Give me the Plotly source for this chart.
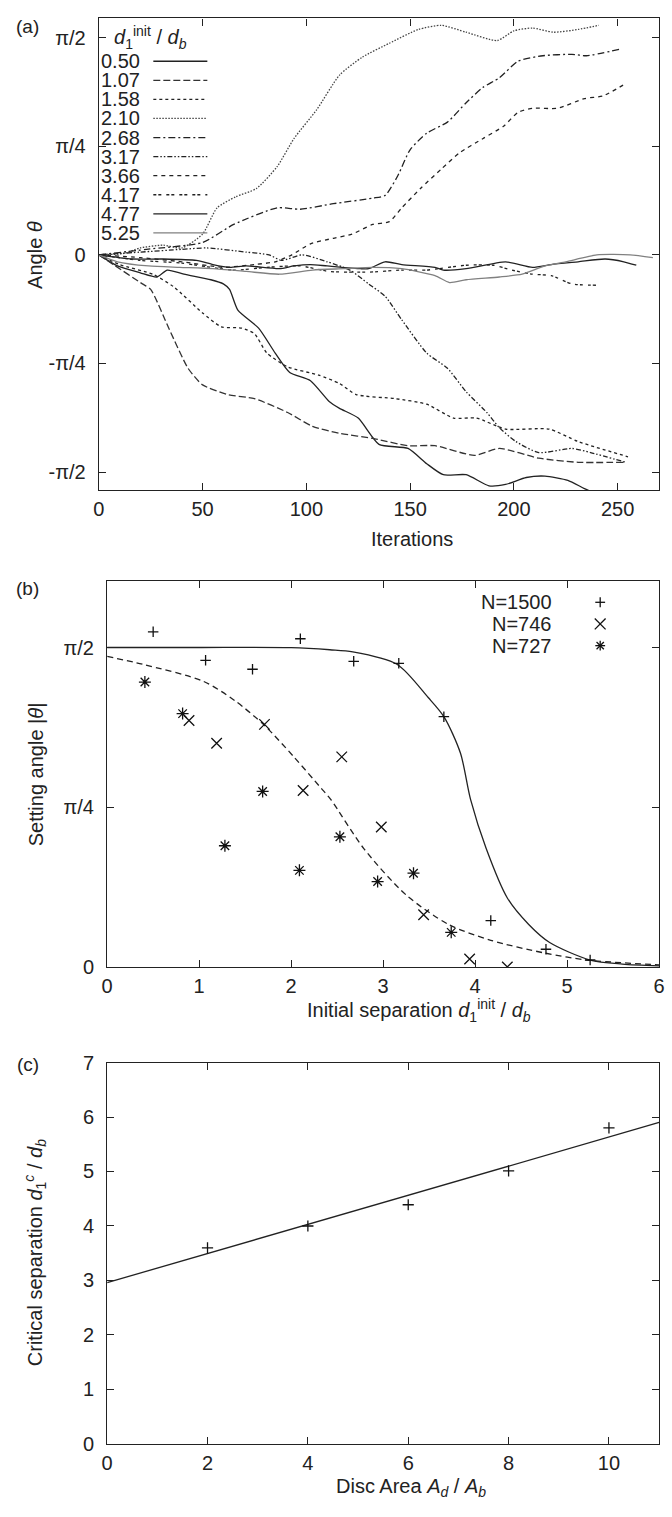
import math
import plotly.graph_objects as go

W, H = 672, 1517
FONT = "Liberation Sans"
INK = "#222222"

# ---------------- Panel (a) data: angle vs iterations ----------------
sep_labels = ["0.50", "1.07", "1.58", "2.10", "2.68", "3.17", "3.66", "4.17", "4.77", "5.25"]

it_050 = [0, 9, 20, 28, 33, 41, 54, 60, 63, 67, 77, 85, 92, 102, 111, 116, 125, 135, 149, 158, 166, 177, 188, 196, 206, 215, 226, 234, 240]
th_050 = [0, -0.08, -0.13, -0.16, -0.11, -0.14, -0.18, -0.21, -0.25, -0.40, -0.53, -0.71, -0.85, -0.91, -1.06, -1.11, -1.18, -1.37, -1.40, -1.51, -1.59, -1.59, -1.67, -1.66, -1.61, -1.60, -1.63, -1.69, -1.73]

it_107 = [0, 7, 21, 25, 34, 43, 50, 62, 75, 91, 103, 116, 133, 149, 162, 181, 193, 212, 231, 253]
th_107 = [0, -0.07, -0.21, -0.25, -0.54, -0.82, -0.94, -1.01, -1.04, -1.14, -1.24, -1.29, -1.33, -1.38, -1.38, -1.45, -1.40, -1.47, -1.50, -1.50]

it_158 = [0, 10, 26, 36, 50, 59, 69, 75, 81, 91, 106, 116, 124, 143, 158, 171, 182, 196, 217, 231, 255]
th_158 = [0, -0.07, -0.14, -0.23, -0.42, -0.52, -0.53, -0.57, -0.71, -0.81, -0.87, -0.93, -1.01, -1.04, -1.08, -1.18, -1.18, -1.26, -1.26, -1.35, -1.46]

it_210 = [0, 12, 20, 31, 40, 50, 57, 66, 76, 86, 94, 105, 116, 127, 140, 154, 165, 177, 192, 200, 209, 219, 231, 241]
th_210 = [0, 0.01, 0.05, 0.07, 0.05, 0.15, 0.34, 0.42, 0.48, 0.64, 0.84, 1.05, 1.30, 1.43, 1.53, 1.63, 1.66, 1.61, 1.55, 1.62, 1.64, 1.61, 1.63, 1.66]

it_268 = [0, 23, 50, 65, 86, 97, 113, 132, 138, 144, 150, 158, 168, 177, 185, 193, 202, 214, 228, 235, 252]
th_268 = [0, 0.04, 0.09, 0.22, 0.34, 0.33, 0.37, 0.41, 0.43, 0.57, 0.76, 0.88, 0.96, 1.10, 1.21, 1.28, 1.40, 1.44, 1.45, 1.44, 1.49]

it_317 = [0, 20, 40, 52, 71, 82, 88, 98, 110, 121, 130, 138, 146, 158, 168, 177, 187, 193, 201, 212, 228, 237, 254]
th_317 = [0, 0.02, 0.04, 0.05, 0.02, 0.0, -0.04, 0.0, -0.05, -0.11, -0.21, -0.30, -0.47, -0.71, -0.82, -0.99, -1.14, -1.25, -1.35, -1.43, -1.40, -1.43, -1.50]

it_366 = [0, 20, 40, 60, 75, 85, 93, 102, 113, 122, 132, 140, 146, 155, 165, 174, 185, 195, 202, 209, 221, 234, 243, 254]
th_366 = [0, -0.02, -0.05, -0.09, -0.07, -0.05, 0.0, 0.08, 0.12, 0.15, 0.22, 0.24, 0.34, 0.48, 0.62, 0.74, 0.84, 0.93, 1.03, 1.06, 1.06, 1.13, 1.15, 1.24]

it_417 = [0, 20, 40, 65, 81, 97, 111, 130, 146, 158, 177, 190, 199, 209, 218, 228, 240]
th_417 = [0, -0.04, -0.06, -0.11, -0.09, -0.08, -0.12, -0.125, -0.11, -0.11, -0.075, -0.075, -0.11, -0.14, -0.15, -0.21, -0.22]

it_477 = [0, 16, 31, 47, 55, 63, 71, 87, 94, 102, 110, 126, 130, 138, 146, 162, 166, 177, 196, 209, 218, 231, 244, 253, 259]
th_477 = [0, -0.03, -0.03, -0.04, -0.07, -0.09, -0.08, -0.10, -0.08, -0.07, -0.08, -0.10, -0.10, -0.05, -0.07, -0.09, -0.11, -0.10, -0.05, -0.09, -0.07, -0.05, -0.03, -0.05, -0.075]

it_525 = [0, 9, 24, 39, 55, 71, 87, 103, 118, 132, 146, 162, 169, 177, 193, 204, 215, 225, 240, 256, 267]
th_525 = [0, -0.05, -0.08, -0.09, -0.10, -0.12, -0.14, -0.11, -0.10, -0.09, -0.10, -0.15, -0.20, -0.18, -0.16, -0.14, -0.08, -0.05, 0.0, 0.0, -0.02]

iters = [it_050, it_107, it_158, it_210, it_268, it_317, it_366, it_417, it_477, it_525]
angles = [th_050, th_107, th_158, th_210, th_268, th_317, th_366, th_417, th_477, th_525]

a_xticks = [0, 50, 100, 150, 200, 250]
a_yticks = [-math.pi / 2, -math.pi / 4, 0, math.pi / 4, math.pi / 2]
a_yticktext = ["-π/2", "-π/4", "0", "π/4", "π/2"]

# ---------------- Panel (b) data: setting angle vs initial separation ----------------
n1500_x = [0.50, 1.07, 1.58, 2.10, 2.68, 3.17, 3.66, 4.17, 4.77, 5.25]
n1500_y = [1.648, 1.508, 1.464, 1.614, 1.503, 1.493, 1.231, 0.228, 0.087, 0.034]

n746_x = [0.89, 1.19, 1.71, 2.13, 2.55, 2.98, 3.44, 3.94, 4.35]
n746_y = [1.212, 1.100, 1.193, 0.868, 1.033, 0.688, 0.257, 0.039, 0.0]

n727_x = [0.41, 0.82, 1.28, 1.69, 2.09, 2.53, 2.94, 3.33, 3.74]
n727_y = [1.401, 1.246, 0.596, 0.863, 0.475, 0.640, 0.420, 0.461, 0.170]

fit1500_x = [0, 1, 2, 2.42, 2.67, 3.15, 3.49, 3.66, 3.84, 3.95, 4.12, 4.35, 4.58, 4.81, 5.25, 5.6, 6.0]
fit1500_y = [1.571, 1.571, 1.570, 1.560, 1.550, 1.489, 1.325, 1.231, 1.052, 0.824, 0.582, 0.339, 0.210, 0.120, 0.034, 0.014, 0.005]

fit746_x = [0, 0.39, 1.04, 1.39, 1.71, 2.03, 2.32, 2.43, 2.79, 3.25, 3.71, 4.17, 4.76, 5.22, 6.0]
fit746_y = [1.527, 1.488, 1.406, 1.309, 1.188, 1.033, 0.882, 0.824, 0.582, 0.354, 0.209, 0.131, 0.068, 0.034, 0.010]

b_yticks = [0, math.pi / 4, math.pi / 2]
b_yticktext = ["0", "π/4", "π/2"]
series_b = ["N=1500", "N=746", "N=727"]

# ---------------- Panel (c) data: critical separation vs disc area ----------------
area_x = [2, 4, 6, 8, 10]
crit_y = [3.60, 4.00, 4.39, 5.01, 5.80]
fitc_x = [0, 11]
fitc_y = [2.96, 5.90]


# ---------------- helpers (pixel -> paper) ----------------
def px(x):
    return x / W


def py(y):
    return 1 - y / H


line_styles = [
    dict(color=INK, dash="solid"),
    dict(color="#333333", dash="7px,3px"),
    dict(color=INK, dash="3px,3px"),
    dict(color="#444444", dash="1.5px,1.5px"),
    dict(color=INK, dash="7px,3px,2px,3px"),
    dict(color=INK, dash="5px,2px,1.5px,2px,1.5px,2px"),
    dict(color=INK, dash="4px,4px"),
    dict(color=INK, dash="3px,2px,3px,5px"),
    dict(color=INK, dash="solid"),
    dict(color="#808080", dash="solid"),
]

fig = go.Figure()

for lab, xs, ys, st in zip(sep_labels, iters, angles, line_styles):
    fig.add_trace(go.Scatter(
        x=xs, y=ys, mode="lines", name=lab, showlegend=False,
        line=dict(color=st["color"], dash=st["dash"], width=1.3, shape="spline", smoothing=0.6),
        xaxis="x", yaxis="y"))

fig.add_trace(go.Scatter(x=fit1500_x, y=fit1500_y, mode="lines", showlegend=False,
                         line=dict(color=INK, width=1.3, shape="spline", smoothing=0.8),
                         xaxis="x2", yaxis="y2"))
fig.add_trace(go.Scatter(x=fit746_x, y=fit746_y, mode="lines", showlegend=False,
                         line=dict(color=INK, width=1.3, dash="6px,4px", shape="spline", smoothing=0.8),
                         xaxis="x2", yaxis="y2"))

mk_line = dict(color="#111111", width=1.3)
fig.add_trace(go.Scatter(x=n1500_x, y=n1500_y, mode="markers", name=series_b[0], showlegend=False,
                         marker=dict(symbol="cross-thin", size=7.5, line=mk_line, color="#111111"),
                         xaxis="x2", yaxis="y2", cliponaxis=False))
fig.add_trace(go.Scatter(x=n746_x, y=n746_y, mode="markers", name=series_b[1], showlegend=False,
                         marker=dict(symbol="x-thin", size=10.5, line=mk_line, color="#111111"),
                         xaxis="x2", yaxis="y2", cliponaxis=True))
fig.add_trace(go.Scatter(x=n727_x, y=n727_y, mode="markers", name=series_b[2], showlegend=False,
                         marker=dict(symbol="asterisk", size=10, line=dict(color="#111111", width=1.3), color="#111111"),
                         xaxis="x2", yaxis="y2"))

fig.add_trace(go.Scatter(x=fitc_x, y=fitc_y, mode="lines", showlegend=False,
                         line=dict(color=INK, width=1.3), xaxis="x3", yaxis="y3"))
fig.add_trace(go.Scatter(x=area_x, y=crit_y, mode="markers", showlegend=False,
                         marker=dict(symbol="cross-thin", size=8, line=mk_line, color="#111111"),
                         xaxis="x3", yaxis="y3"))

axis_common = dict(showline=True, linecolor=INK, linewidth=1.3, mirror="ticks", ticks="inside",
                   ticklen=7, tickwidth=1.2, tickcolor=INK, showgrid=False, zeroline=False,
                   tickfont=dict(family=FONT, size=20, color=INK))

# pixel boxes
A = dict(l=94.5, r=665, t=7.5, b=486)
B = dict(l=103, r=665, t=578, b=970)
C = dict(l=103, r=665, t=1067, b=1454)

XSO = 1   # x tick label standoff
YSO = 8   # y tick label standoff

fig.update_layout(
    width=W, height=H, autosize=False,
    margin=dict(l=0, r=0, t=0, b=0, pad=0),
    paper_bgcolor="white", plot_bgcolor="white",
    font=dict(family=FONT, size=20, color=INK),
    xaxis=dict(axis_common, domain=[px(A["l"]), px(A["r"])], range=[0, 270], tickvals=a_xticks,
               anchor="y", ticklabelstandoff=XSO),
    yaxis=dict(axis_common, domain=[py(A["b"]), py(A["t"])], range=[-1.70, 1.71], tickvals=a_yticks,
               ticktext=a_yticktext, anchor="x", ticklabelstandoff=YSO),
    xaxis2=dict(axis_common, domain=[px(B["l"]), px(B["r"])], range=[0, 6], tickvals=[0, 1, 2, 3, 4, 5, 6],
                anchor="y2", ticklabelstandoff=XSO),
    yaxis2=dict(axis_common, domain=[py(B["b"]), py(B["t"])], range=[0, 1.90], tickvals=b_yticks,
                ticktext=b_yticktext, anchor="x2", ticklabelstandoff=YSO),
    xaxis3=dict(axis_common, domain=[px(C["l"]), px(C["r"])], range=[0, 11], tickvals=[0, 2, 4, 6, 8, 10],
                anchor="y3", ticklabelstandoff=XSO),
    yaxis3=dict(axis_common, domain=[py(C["b"]), py(C["t"])], range=[0, 7], tickvals=[0, 1, 2, 3, 4, 5, 6, 7],
                anchor="x3", ticklabelstandoff=YSO),
)

ann = []


def text(x, y, s, size=20, xanchor="center", yanchor="middle", angle=0):
    ann.append(dict(x=px(x), y=py(y), xref="paper", yref="paper", text=s, showarrow=False,
                    xanchor=xanchor, yanchor=yanchor, textangle=angle,
                    font=dict(family=FONT, size=size, color=INK)))


# panel tags
text(22, 16, "(a)", size=19)
text(22, 586, "(b)", size=19)
text(22, 1069, "(c)", size=19)

# axis titles
text(30, 247, "Angle <i>θ</i>", angle=-90)
text(413, 536, "Iterations")
text(30, 774, "Setting angle |<i>θ</i>|", angle=-90)
text(420, 1014, "Initial separation <i>d</i><sub>1</sub><sup>init</sup> / <i>d</i><sub><i>b</i></sub>")
text(30, 1260, "Critical separation <i>d</i><sub>1</sub><sup><i>c</i></sup> / <i>d</i><sub><i>b</i></sub>", angle=-90)
text(412, 1498, "Disc Area <i>A</i><sub><i>d</i></sub> / <i>A</i><sub><i>b</i></sub>")

# panel (a) legend
text(108, 27, "<i>d</i><sub>1</sub><sup>init</sup> / <i>d</i><sub><i>b</i></sub>", xanchor="left")
shapes = []
for i, (lab, st) in enumerate(zip(sep_labels, line_styles)):
    yy = 51 + i * 19.35
    text(138, yy, lab, xanchor="right")
    shapes.append(dict(type="line", xref="paper", yref="paper", x0=px(150), x1=px(205), y0=py(yy), y1=py(yy),
                       line=dict(color=st["color"], dash=st["dash"], width=1.3)))

# panel (b) legend
leg_y = [600, 622, 644]
for lab, yy in zip(series_b, leg_y):
    text(558, yy, lab, xanchor="right")


def seg(x0, y0, x1, y1, w=1.3):
    shapes.append(dict(type="line", xref="paper", yref="paper", x0=px(x0), y0=py(y0), x1=px(x1), y1=py(y1),
                       line=dict(color="#111111", width=w)))


cx = 605
# +
seg(cx - 5, leg_y[0], cx + 5, leg_y[0]); seg(cx, leg_y[0] - 5, cx, leg_y[0] + 5)
# x
seg(cx - 5.5, leg_y[1] - 5.5, cx + 5.5, leg_y[1] + 5.5); seg(cx - 5.5, leg_y[1] + 5.5, cx + 5.5, leg_y[1] - 5.5)
# asterisk
seg(cx - 5, leg_y[2], cx + 5, leg_y[2], 1.3); seg(cx, leg_y[2] - 5, cx, leg_y[2] + 5, 1.3)
seg(cx - 3.7, leg_y[2] - 3.7, cx + 3.7, leg_y[2] + 3.7, 1.3); seg(cx - 3.7, leg_y[2] + 3.7, cx + 3.7, leg_y[2] - 3.7, 1.3)

fig.update_layout(annotations=ann, shapes=shapes)

fig.write_html("out.html", config={"displayModeBar": False},
               post_script="document.documentElement.style.margin='0';document.body.style.margin='0';"
                           "document.body.style.padding='0';document.body.style.overflow='hidden';")
